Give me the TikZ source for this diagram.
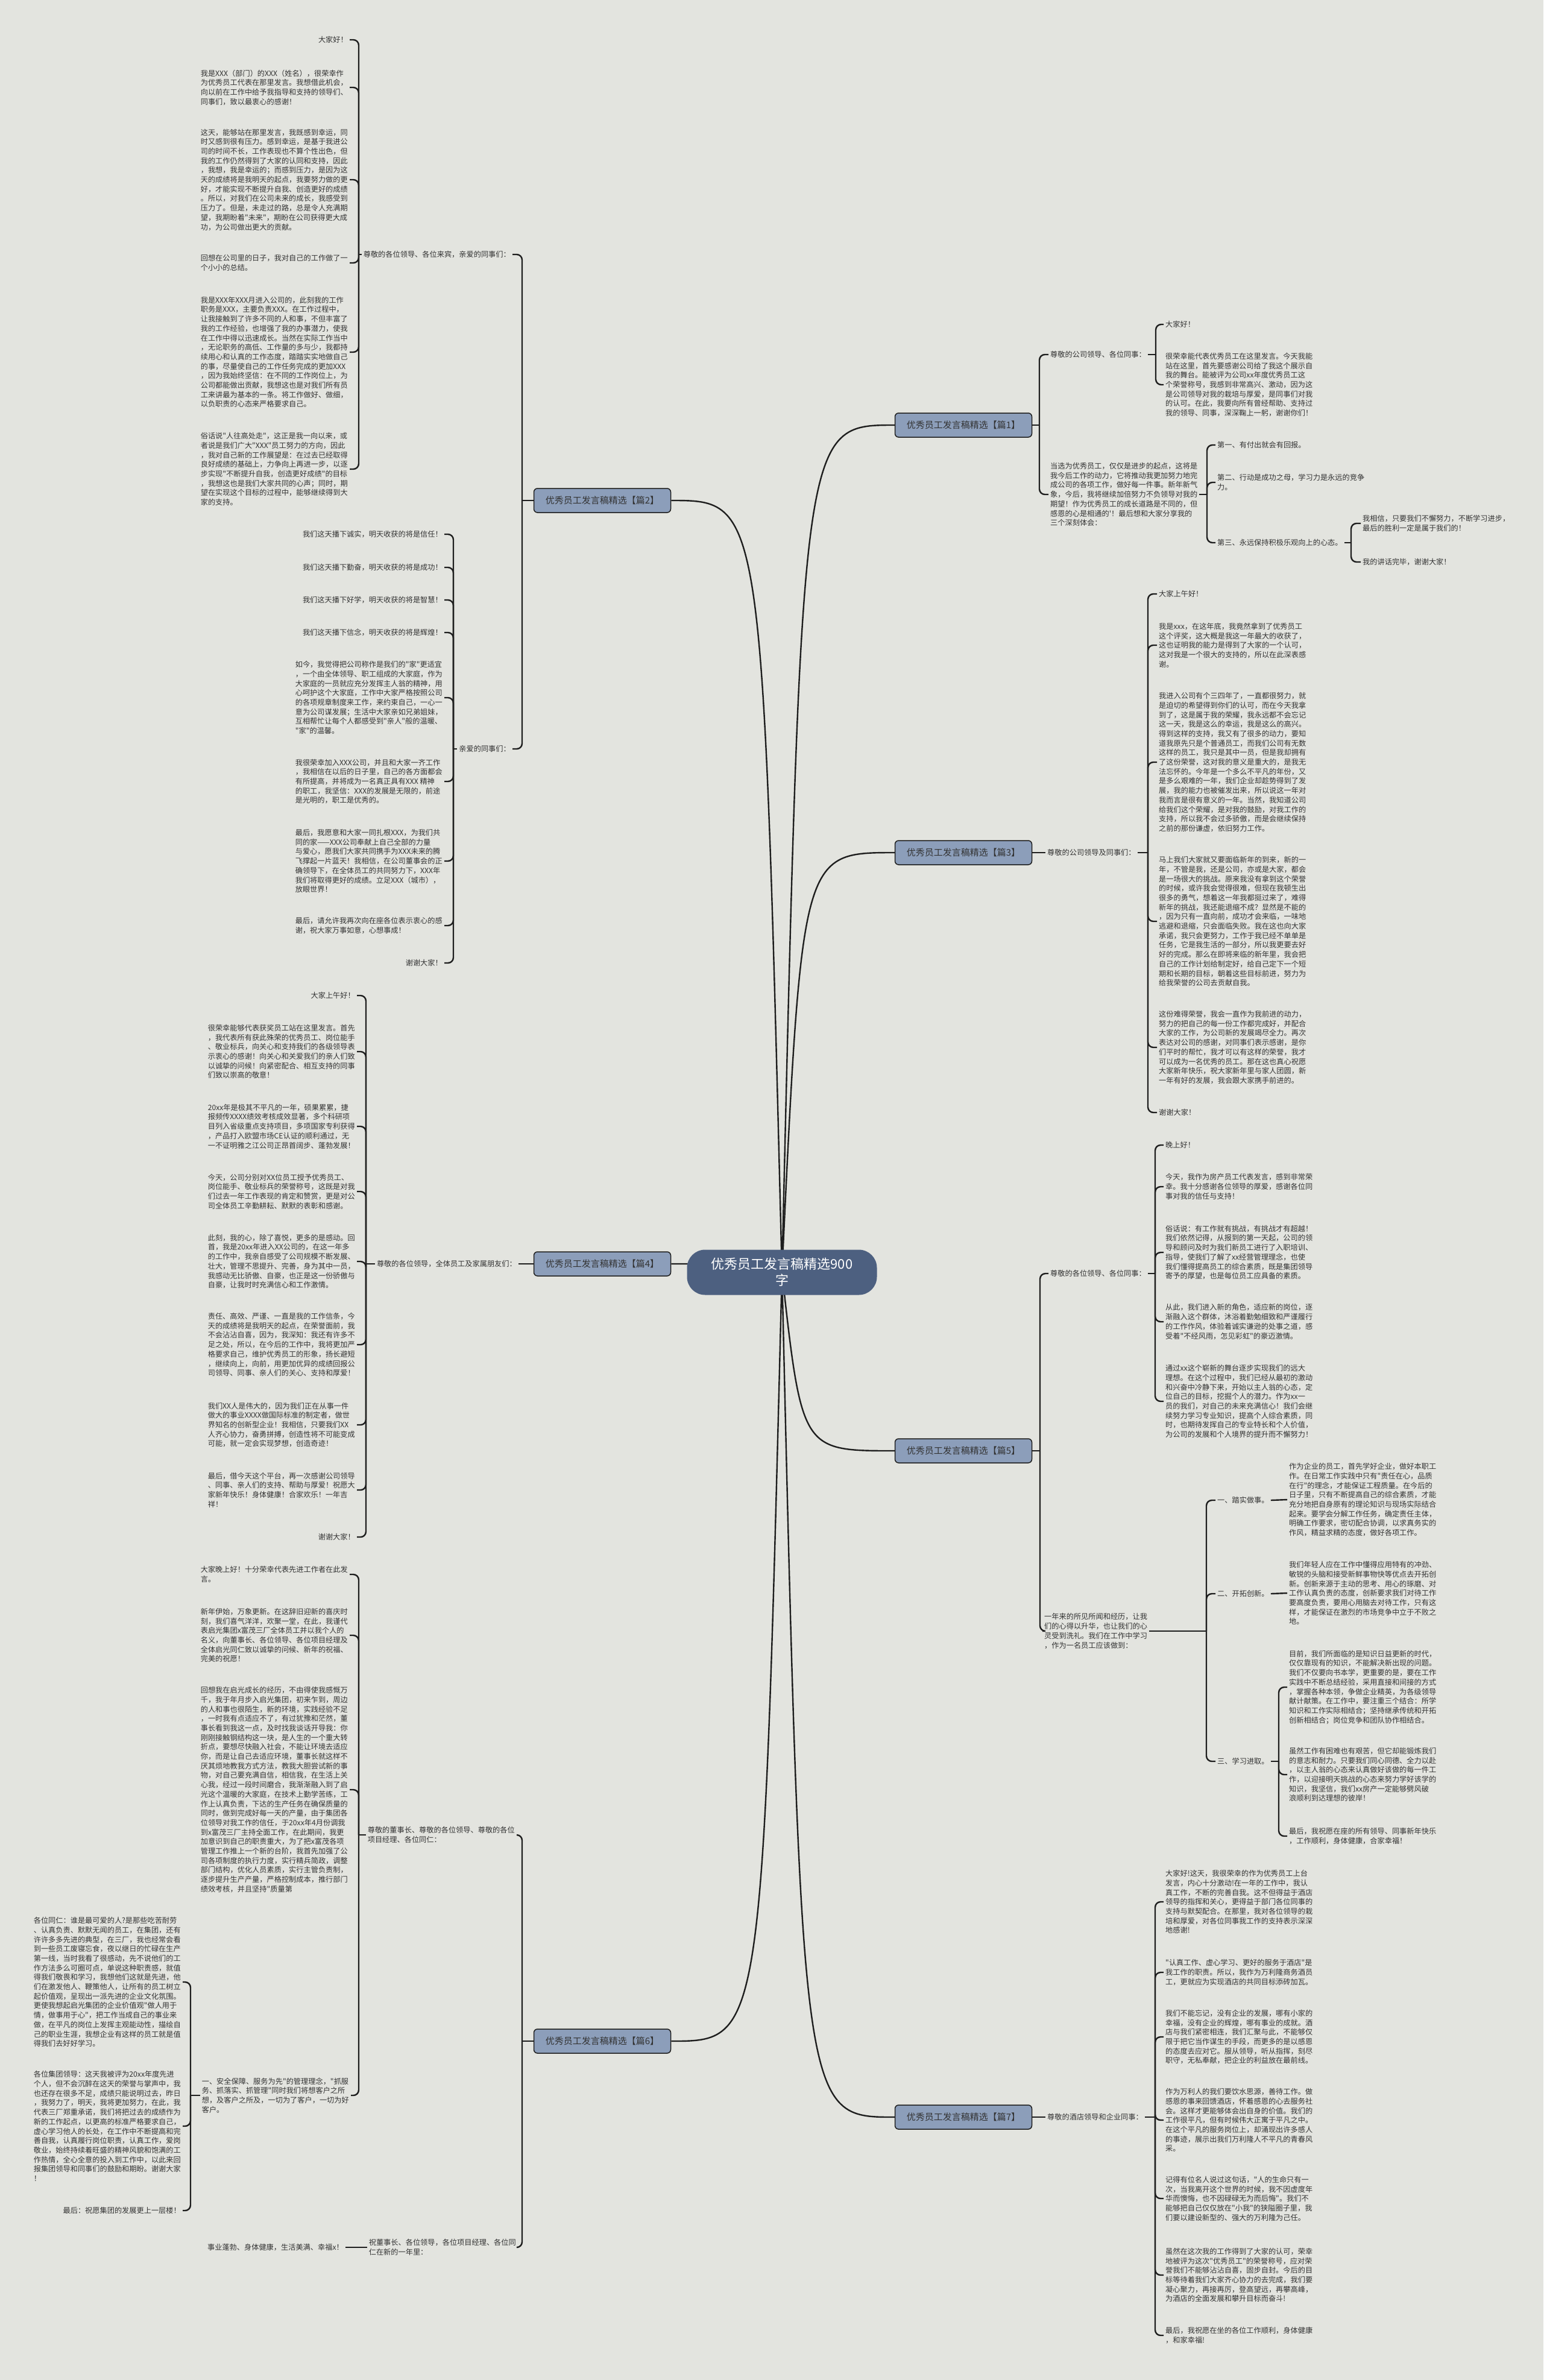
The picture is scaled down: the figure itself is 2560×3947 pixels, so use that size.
\documentclass[tikz,border=0pt]{standalone}
\usepackage{fontspec}
\newfontfamily\cjk{Noto Sans CJK SC}
\XeTeXlinebreaklocale "zh"
\definecolor{paper}{RGB}{227,228,223}
\definecolor{rootblue}{RGB}{77,96,128}
\definecolor{branchblue}{RGB}{140,158,186}
\definecolor{ink}{RGB}{51,51,51}
\definecolor{wire}{RGB}{30,30,30}
\pgfdeclarelayer{bg}
\pgfdeclarelayer{edges}
\pgfsetlayers{bg,edges,main}
\tikzset{
  txt/.style={font={\cjk\fontsize{12.2}{15.7}\selectfont},text=ink,align=left,inner xsep=3pt,inner ysep=1pt},
  rootbox/.style={font={\cjk\fontsize{22}{27}\selectfont},text=white,fill=rootblue,rounded corners=30pt,
    minimum width=315pt,minimum height=75pt,align=center},
  branchbox/.style={font={\cjk\fontsize{15}{18}\selectfont},text=ink,fill=branchblue,draw=wire,line width=1.5pt,
    rounded corners=6pt,minimum width=227pt,minimum height=40pt},
  link/.style={draw=wire,line width=2.4pt,rounded corners=9pt},
}
\begin{document}
\begin{tikzpicture}[x=1pt,y=-1pt]
  \useasboundingbox (0,0) rectangle (2560,3947);
  \begin{pgfonlayer}{bg}
    \fill[paper] (0,0) rectangle (2560,3947);
  \end{pgfonlayer}

  % 中心主题
  \node[rootbox] (root) at (1297,2110) {优秀员工发言稿精选900\\字};

  % 分支
  \node[branchbox] (p1) at (1598,705) {优秀员工发言稿精选【篇1】};
  \node[branchbox] (p3) at (1598,1414) {优秀员工发言稿精选【篇3】};
  \node[branchbox] (p5) at (1598,2406) {优秀员工发言稿精选【篇5】};
  \node[branchbox] (p7) at (1598,3511) {优秀员工发言稿精选【篇7】};
  \node[branchbox] (p2) at (999,830) {优秀员工发言稿精选【篇2】};
  \node[branchbox] (p4) at (999,2096) {优秀员工发言稿精选【篇4】};
  \node[branchbox] (p6) at (999,3385) {优秀员工发言稿精选【篇6】};

  % 篇1
  \node[txt,anchor=west] (r1a) at (1739,588) {尊敬的公司领导、各位同事：};
  \node[txt,anchor=west] (r1a1) at (1930,538) {大家好！};
  \node[txt,anchor=west] (r1a2) at (1930,638) {很荣幸能代表优秀员工在这里发言。今天我能\\站在这里，首先要感谢公司给了我这个展示自\\我的舞台。能被评为公司xx年度优秀员工这\\个荣誉称号，我感到非常高兴、激动，因为这\\是公司领导对我的栽培与厚爱，是同事们对我\\的认可。在此，我要向所有曾经帮助、支持过\\我的领导、同事，深深鞠上一躬，谢谢你们！};
  \node[txt,anchor=west] (r1b) at (1739,820) {当选为优秀员工，仅仅是进步的起点，这将是\\我今后工作的动力，它将推动我更加努力地完\\成公司的各项工作，做好每一件事。新年新气\\象，今后，我将继续加倍努力不负领导对我的\\期望！作为优秀员工的成长道路是不同的，但\\感恩的心是相通的'！最后想和大家分享我的\\三个深刻体会：};
  \node[txt,anchor=west] (r1b1) at (2016,738) {第一、有付出就会有回报。};
  \node[txt,anchor=west] (r1b2) at (2016,800) {第二、行动是成功之母，学习力是永远的竞争\\力。};
  \node[txt,anchor=west] (r1b3) at (2016,900) {第三、永远保持积极乐观向上的心态。};
  \node[txt,anchor=west] (r1b31) at (2257,868) {我相信，只要我们不懈努力，不断学习进步，\\最后的胜利一定是属于我们的！};
  \node[txt,anchor=west] (r1b32) at (2257,932) {我的讲话完毕，谢谢大家！};

  % 篇3
  \node[txt,anchor=west] (r3) at (1734,1414) {尊敬的公司领导及同事们：};
  \node[txt,anchor=west] (r31) at (1919,985) {大家上午好！};
  \node[txt,anchor=west] (r32) at (1919,1070) {我是xxx，在这年底，我竟然拿到了优秀员工\\这个评奖，这大概是我这一年最大的收获了，\\这也证明我的能力是得到了大家的一个认可，\\这对我是一个很大的支持的，所以在此深表感\\谢。};
  \node[txt,anchor=west] (r33) at (1919,1264) {我进入公司有个三四年了，一直都很努力，就\\是迫切的希望得到你们的认可，而在今天我拿\\到了，这是属于我的荣耀，我永远都不会忘记\\这一天，我是这么的幸运，我是这么的高兴。\\得到这样的支持，我又有了很多的动力，要知\\道我原先只是个普通员工，而我们公司有无数\\这样的员工，我只是其中一员，但是我却拥有\\了这份荣誉，这对我的意义是重大的，是我无\\法忘怀的。今年是一个多么不平凡的年份，又\\是多么艰难的一年，我们企业却趁势得到了发\\展，我的能力也被催发出来，所以说这一年对\\我而言是很有意义的一年。当然，我知道公司\\给我们这个荣耀，是对我的鼓励，对我工作的\\支持，所以我不会过多骄傲，而是会继续保持\\之前的那份谦虚，依旧努力工作。};
  \node[txt,anchor=west] (r34) at (1919,1528) {马上我们大家就又要面临新年的到来，新的一\\年，不管是我，还是公司，亦或是大家，都会\\是一场很大的挑战。原来我没有拿到这个荣誉\\的时候，或许我会觉得很难，但现在我顿生出\\很多的勇气，想着这一年我都挺过来了，难得\\新年的挑战，我还能退缩不成？显然是不能的\\，因为只有一直向前，成功才会来临，一味地\\逃避和退缩，只会面临失败。我在这也向大家\\承诺，我只会更努力，工作于我已经不单单是\\任务，它是我生活的一部分，所以我更要去好\\好的完成。那么在即将来临的新年里，我会把\\自己的工作计划给制定好，给自己定下一个短\\期和长期的目标，朝着这些目标前进，努力为\\给我荣誉的公司去贡献自我。};
  \node[txt,anchor=west] (r35) at (1919,1737) {这份难得荣誉，我会一直作为我前进的动力，\\努力的把自己的每一份工作都完成好，并配合\\大家的工作，为公司新的发展竭尽全力。再次\\表达对公司的感谢，对同事们表示感谢，是你\\们平时的帮忙，我才可以有这样的荣誉，我才\\可以成为一名优秀的员工。那在这也真心祝愿\\大家新年快乐，祝大家新年里与家人团圆，新\\一年有好的发展，我会跟大家携手前进的。};
  \node[txt,anchor=west] (r36) at (1919,1845) {谢谢大家！};

  % 篇5
  \node[txt,anchor=west] (r5a) at (1739,2112) {尊敬的各位领导、各位同事：};
  \node[txt,anchor=west] (r5a1) at (1930,1899) {晚上好！};
  \node[txt,anchor=west] (r5a2) at (1930,1968) {今天，我作为房产员工代表发言，感到非常荣\\幸。我十分感谢各位领导的厚爱，感谢各位同\\事对我的信任与支持！};
  \node[txt,anchor=west] (r5a3) at (1930,2077) {俗话说：有工作就有挑战，有挑战才有超越！\\我们依然记得，从报到的第一天起，公司的领\\导和顾问及时为我们新员工进行了入职培训、\\指导，使我们了解了xx经营管理理念，也使\\我们懂得提高员工的综合素质，既是集团领导\\寄予的厚望，也是每位员工应具备的素质。};
  \node[txt,anchor=west] (r5a4) at (1930,2192) {从此，我们进入新的角色，适应新的岗位，逐\\渐融入这个群体，沐浴着勤勉细致和严谨履行\\的工作作风，体验着诚实谦逊的处事之道，感\\受着"不经风雨，怎见彩虹"的豪迈激情。};
  \node[txt,anchor=west] (r5a5) at (1930,2324) {通过xx这个崭新的舞台逐步实现我们的远大\\理想。在这个过程中，我们已经从最初的激动\\和兴奋中冷静下来，开始以主人翁的心态，定\\位自己的目标，挖掘个人的潜力。作为xx一\\员的我们，对自己的未来充满信心！我们会继\\续努力学习专业知识，提高个人综合素质，同\\时，也期待发挥自己的专业特长和个人价值，\\为公司的发展和个人境界的提升而不懈努力！};
  \node[txt,anchor=west] (r5b) at (1729,2705) {一年来的所见所闻和经历，让我\\们的心得以升华，也让我们的心\\灵受到洗礼。我们在工作中学习\\，作为一名员工应该做到：};
  \node[txt,anchor=west] (r5b1) at (2016,2488) {一、踏实做事。};
  \node[txt,anchor=west] (r5b2) at (2016,2643) {二、开拓创新。};
  \node[txt,anchor=west] (r5b3) at (2016,2921) {三、学习进取。};
  \node[txt,anchor=west] (r5b11) at (2135,2487) {作为企业的员工，首先学好企业，做好本职工\\作。在日常工作实践中只有"责任在心，品质\\在行"的理念，才能保证工程质量。在今后的\\日子里，只有不断提高自己的综合素质，才能\\充分地把自身原有的理论知识与现场实际结合\\起来。要学会分解工作任务，确定责任主体，\\明确工作要求，密切配合协调，以求真务实的\\作风，精益求精的态度，做好各项工作。};
  \node[txt,anchor=west] (r5b21) at (2135,2642) {我们年轻人应在工作中懂得应用特有的冲劲、\\敏锐的头脑和接受新鲜事物快等优点去开拓创\\新。创新来源于主动的思考、用心的琢磨、对\\工作认真负责的态度，创新要求我们对待工作\\要高度负责，要用心用脑去对待工作，只有这\\样，才能保证在激烈的市场竞争中立于不败之\\地。};
  \node[txt,anchor=west] (r5b31) at (2135,2798) {目前，我们所面临的是知识日益更新的时代，\\仅仅靠现有的知识，不能解决新出现的问题。\\我们不仅要向书本学，更重要的是，要在工作\\实践中不断总结经验，采用直接和间接的方式\\，掌握各种本领，争做企业精英，为各级领导\\献计献策。在工作中，要注重三个结合：所学\\知识和工作实际相结合；坚持继承传统和开拓\\创新相结合；岗位竞争和团队协作相结合。};
  \node[txt,anchor=west] (r5b32) at (2135,2943) {虽然工作有困难也有艰苦，但它却能锻炼我们\\的意志和耐力。只要我们同心同德、全力以赴\\，以主人翁的心态来认真做好该做的每一件工\\作，以迎接明天挑战的心态来努力学好该学的\\知识，我坚信，我们xx房产一定能够劈风破\\浪顺利到达理想的彼岸！};
  \node[txt,anchor=west] (r5b33) at (2135,3045) {最后，我祝愿在座的所有领导、同事新年快乐\\，工作顺利，身体健康，合家幸福！};

  % 篇7
  \node[txt,anchor=west] (r7) at (1734,3511) {尊敬的酒店领导和企业同事：};
  \node[txt,anchor=west] (r71) at (1930,3154) {大家好!这天，我很荣幸的作为优秀员工上台\\发言，内心十分激动!在一年的工作中，我认\\真工作，不断的完善自我。这不但得益于酒店\\领导的指挥和关心，更得益于部门各位同事的\\支持与默契配合。在那里，我对各位领导的栽\\培和厚爱，对各位同事我工作的支持表示深深\\地感谢!};
  \node[txt,anchor=west] (r72) at (1930,3271) {"认真工作、虚心学习、更好的服务于酒店"是\\我工作的职责。所以，我作为万利隆商务酒员\\工，更就应为实现酒店的共同目标添砖加瓦。};
  \node[txt,anchor=west] (r73) at (1930,3378) {我们不能忘记，没有企业的发展，哪有小家的\\幸福，没有企业的辉煌，哪有事业的成就。酒\\店与我们紧密相连，我们汇聚与此，不能够仅\\限于把它当作谋生的手段，而更多的是以感恩\\的态度去应对它。服从领导，听从指挥，刻尽\\职守，无私奉献，把企业的利益放在最前线。};
  \node[txt,anchor=west] (r74) at (1930,3516) {作为万利人的我们要饮水思源，善待工作。做\\感恩的事来回馈酒店，怀着感恩的心去服务社\\会。这样才更能够体会出自身的价值。我们的\\工作很平凡，但有时候伟大正寓于平凡之中。\\在这个平凡的服务岗位上，却涌现出许多感人\\的事迹，展示出我们万利隆人不平凡的青春风\\采。};
  \node[txt,anchor=west] (r75) at (1930,3646) {记得有位名人说过这句话，"人的生命只有一\\次，当我离开这个世界的时候，我不因虚度年\\华而懊悔，也不因碌碌无为而后悔"。我们不\\能够把自己仅仅放在"小我"的狭隘圈子里，我\\们要以建设新型的、强大的万利隆为己任。};
  \node[txt,anchor=west] (r76) at (1930,3773) {虽然在这次我的工作得到了大家的认可，荣幸\\地被评为这次"优秀员工"的荣誉称号，应对荣\\誉我们不能够沾沾自喜，固步自封。今后的目\\标等待着我们大家齐心协力的去完成，我们要\\凝心聚力，再接再厉，登高望远，再攀高峰，\\为酒店的全面发展和攀升目标而奋斗!};
  \node[txt,anchor=west] (r77) at (1930,3873) {最后，我祝愿在坐的各位工作顺利，身体健康\\，和家幸福!};

  % 篇2
  \node[txt,anchor=east] (l2a) at (850,422) {尊敬的各位领导、各位来宾，亲爱的同事们：};
  \node[txt,anchor=east] (l2a1) at (580,66) {大家好！};
  \node[txt,anchor=east] (l2a2) at (580,145) {我是XXX（部门）的XXX（姓名），很荣幸作\\为优秀员工代表在那里发言。我想借此机会，\\向以前在工作中给予我指导和支持的领导们、\\同事们，致以最衷心的感谢！};
  \node[txt,anchor=east] (l2a3) at (580,298) {这天，能够站在那里发言，我既感到幸运，同\\时又感到很有压力。感到幸运，是基于我进公\\司的时间不长，工作表现也不算个性出色，但\\我的工作仍然得到了大家的认同和支持，因此\\，我想，我是幸运的；而感到压力，是因为这\\天的成绩将是我明天的起点，我要努力做的更\\好，才能实现不断提升自我、创造更好的成绩\\。所以，对我们在公司未来的成长，我感受到\\压力了。但是，未走过的路，总是令人充满期\\望，我期盼着"未来"，期盼在公司获得更大成\\功，为公司做出更大的贡献。};
  \node[txt,anchor=east] (l2a4) at (580,436) {回想在公司里的日子，我对自己的工作做了一\\个小小的总结。};
  \node[txt,anchor=east] (l2a5) at (580,584) {我是XXX年XXX月进入公司的，此刻我的工作\\职务是XXX，主要负责XXX。在工作过程中，\\让我接触到了许多不同的人和事，不但丰富了\\我的工作经验，也增强了我的办事潜力，使我\\在工作中得以迅速成长。当然在实际工作当中\\，无论职务的高低、工作量的多与少，我都持\\续用心和认真的工作态度，踏踏实实地做自己\\的事，尽量使自己的工作任务完成的更加XXX\\，因为我始终坚信：在不同的工作岗位上，为\\公司都能做出贡献，我想这也是对我们所有员\\工来讲最为基本的一条。将工作做好、做细，\\以负职责的心态来严格要求自己。};
  \node[txt,anchor=east] (l2a6) at (580,778) {俗话说"人往高处走"，这正是我一向以来，或\\者说是我们广大"XXX"员工努力的方向，因此\\，我对自己新的工作展望是：在过去已经取得\\良好成绩的基础上，力争向上再进一步，以逐\\步实现"不断提升自我，创造更好成绩"的目标\\，我想这也是我们大家共同的心声；同时，期\\望在实现这个目标的过程中，能够继续得到大\\家的支持。};
  \node[txt,anchor=east] (l2b) at (850,1242) {亲爱的同事们：};
  \node[txt,anchor=east] (l2b1) at (737,886) {我们这天播下诚实，明天收获的将是信任！};
  \node[txt,anchor=east] (l2b2) at (737,941) {我们这天播下勤奋，明天收获的将是成功！};
  \node[txt,anchor=east] (l2b3) at (737,995) {我们这天播下好学，明天收获的将是智慧！};
  \node[txt,anchor=east] (l2b4) at (737,1049) {我们这天播下信念，明天收获的将是辉煌！};
  \node[txt,anchor=east] (l2b5) at (737,1157) {如今，我觉得把公司称作是我们的"家"更适宜\\，一个由全体领导、职工组成的大家庭，作为\\大家庭的一员就应充分发挥主人翁的精神，用\\心呵护这个大家庭，工作中大家严格按照公司\\的各项规章制度来工作，来约束自己，一心一\\意为公司谋发展；生活中大家亲如兄弟姐妹，\\互相帮忙让每个人都感受到"亲人"般的温暖、\\"家"的温馨。};
  \node[txt,anchor=east] (l2b6) at (737,1296) {我很荣幸加入XXX公司，并且和大家一齐工作\\，我相信在以后的日子里，自己的各方面都会\\有所提高，并将成为一名真正具有XXX 精神\\的职工，我坚信：XXX的发展是无限的，前途\\是光明的，职工是优秀的。};
  \node[txt,anchor=east] (l2b7) at (737,1428) {最后，我愿意和大家一同扎根XXX，为我们共\\同的家——XXX公司奉献上自己全部的力量\\与爱心，愿我们大家共同携手为XXX未来的腾\\飞撑起一片蓝天！我相信，在公司董事会的正\\确领导下，在全体员工的共同努力下，XXX年\\我们将取得更好的成绩。立足XXX（城市），\\放眼世界！};
  \node[txt,anchor=east] (l2b8) at (737,1535) {最后，请允许我再次向在座各位表示衷心的感\\谢，祝大家万事如意，心想事成！};
  \node[txt,anchor=east] (l2b9) at (737,1597) {谢谢大家！};

  % 篇4
  \node[txt,anchor=east] (l4) at (860,2096) {尊敬的各位领导，全体员工及家属朋友们：};
  \node[txt,anchor=east] (l41) at (592,1651) {大家上午好！};
  \node[txt,anchor=east] (l42) at (592,1744) {很荣幸能够代表获奖员工站在这里发言。首先\\，我代表所有获此殊荣的优秀员工、岗位能手\\、敬业标兵，向关心和支持我们的各级领导表\\示衷心的感谢！向关心和关爱我们的亲人们致\\以诚挚的问候！向紧密配合、相互支持的同事\\们致以崇高的敬意！};
  \node[txt,anchor=east] (l43) at (592,1868) {20xx年是极其不平凡的一年，硕果累累，捷\\报频传XXXX绩效考核成效显著，多个科研项\\目列入省级重点支持项目，多项国家专利获得\\，产品打入欧盟市场CE认证的顺利通过，无\\一不证明雅之江公司正昂首阔步、蓬勃发展！};
  \node[txt,anchor=east] (l44) at (592,1976) {今天，公司分别对XX位员工授予优秀员工、\\岗位能手、敬业标兵的荣誉称号，这既是对我\\们过去一年工作表现的肯定和赞赏，更是对公\\司全体员工辛勤耕耘、默默的表彰和感谢。};
  \node[txt,anchor=east] (l45) at (592,2092) {此刻，我的心，除了喜悦，更多的是感动。回\\首，我是20xx年进入XX公司的，在这一年多\\的工作中，我亲自感受了公司规模不断发展、\\壮大，管理不思提升、完善，身为其中一员，\\我感动无比骄傲、自豪，也正是这一份骄傲与\\自豪，让我时时充满信心和工作激情。};
  \node[txt,anchor=east] (l46) at (592,2230) {责任、高效、严谨、一直是我的工作信条，今\\天的成绩将是我明天的起点，在荣誉面前，我\\不会沾沾自喜，因为，我深知：我还有许多不\\足之处，所以，在今后的工作中，我将更加严\\格要求自己，维护优秀员工的形象，扬长避短\\，继续向上，向前，用更加优异的成绩回报公\\司领导、同事、亲人们的关心、支持和厚爱！};
  \node[txt,anchor=east] (l47) at (592,2363) {我们XX人是伟大的，因为我们正在从事一件\\做大的事业XXXX做国际标准的制定者，做世\\界知名的创新型企业！我相信，只要我们XX\\人齐心协力，奋勇拼搏，创造性将不可能变成\\可能，就一定会实现梦想，创造奇迹！};
  \node[txt,anchor=east] (l48) at (592,2471) {最后，借今天这个平台，再一次感谢公司领导\\、同事、亲人们的支持、帮助与厚爱！祝愿大\\家新年快乐！身体健康！合家欢乐！一年吉\\祥！};
  \node[txt,anchor=east] (l49) at (592,2549) {谢谢大家！};

  % 篇6
  \node[txt,anchor=east] (l6a) at (857,3043) {尊敬的董事长、尊敬的各位领导、尊敬的各位\\项目经理、各位同仁：};
  \node[txt,anchor=east] (l6a1) at (580,2611) {大家晚上好！十分荣幸代表先进工作者在此发\\言。};
  \node[txt,anchor=east] (l6a2) at (580,2712) {新年伊始，万象更新。在这辞旧迎新的喜庆时\\刻，我们喜气洋洋，欢聚一堂，在此，我谨代\\表启光集团x富茂三厂全体员工并以我个人的\\名义，向董事长、各位领导、各位项目经理及\\全体启光同仁致以诚挚的问候、新年的祝福、\\完美的祝愿！};
  \node[txt,anchor=east] (l6a3) at (580,2968) {回想我在启光成长的经历，不由得使我感慨万\\千，我于年月步入启光集团，初来乍到，周边\\的人和事也很陌生，新的环境，实践经验不足\\，一时我有点适应不了，有过犹豫和茫然，董\\事长看到我这一点，及时找我谈话开导我：你\\刚刚接触钢结构这一块，是人生的一个重大转\\折点，要想尽快融入社会，不能让环境去适应\\你，而是让自己去适应环境，董事长就这样不\\厌其烦地教我方式方法，教我大胆尝试新的事\\物，对自己要充满自信，相信我，在生活上关\\心我，经过一段时间磨合，我渐渐融入到了启\\光这个温暖的大家庭，在技术上勤学苦练，工\\作上认真负责，下达的生产任务在确保质量的\\同时，做到完成好每一天的产量，由于集团各\\位领导对我工作的信任，于20xx年4月份调我\\到x富茂三厂主持全面工作，在此期间，我更\\加意识到自己的职责重大，为了把x富茂各项\\管理工作推上一个新的台阶，我首先加强了公\\司各项制度的执行力度，实行精兵简政，调整\\部门结构，优化人员素质，实行主管负责制，\\逐步提升生产产量，严格控制成本，推行部门\\绩效考核，并且坚持"质量第};
  \node[txt,anchor=east] (l6a4) at (582,3475) {一、安全保障、服务为先"的管理理念，"抓服\\务、抓落实、抓管理"同时我们将想客户之所\\想，及客户之所及，一切为了客户，一切为好\\客户。};
  \node[txt,anchor=east] (l6a41) at (303,3287) {各位同仁：谁是最可爱的人?是那些吃苦耐劳\\、认真负责、默默无闻的员工，在集团，还有\\许许多多先进的典型，在三厂，我也经常会看\\到一些员工废寝忘食，夜以继日的忙碌在生产\\第一线，当时我看了很感动，先不说他们的工\\作方法多么可圈可点，单说这种职责感，就值\\得我们敬畏和学习，我想他们这就是先进，他\\们在激发他人、鞭策他人，让所有的员工树立\\起价值观，呈现出一派先进的企业文化氛围。\\更使我想起启光集团的企业价值观"做人用于\\情，做事用于心"，把工作当成自己的事业来\\做，在平凡的岗位上发挥主观能动性，描绘自\\己的职业生涯，我想企业有这样的员工就是值\\得我们去好好学习。};
  \node[txt,anchor=east] (l6a42) at (303,3526) {各位集团领导：这天我被评为20xx年度先进\\个人，但不会沉醉在这天的荣誉与掌声中，我\\也还存在很多不足，成绩只能说明过去，昨日\\，我努力了，明天，我将更加努力，在此，我\\代表三厂郑重承诺，我们将把过去的成绩作为\\新的工作起点，以更高的标准严格要求自己，\\虚心学习他人的长处，在工作中不断提高和完\\善自我，认真履行岗位职责，认真工作，爱岗\\敬业，始终持续着旺盛的精神风貌和饱满的工\\作热情，全心全意的投入到工作中，以此来回\\报集团领导和同事们的鼓励和期盼。谢谢大家\\！};
  \node[txt,anchor=east] (l6a43) at (303,3666) {最后：祝愿集团的发展更上一层楼！};
  \node[txt,anchor=east] (l6b) at (859,3727) {祝董事长、各位领导，各位项目经理、各位同\\仁在新的一年里：};
  \node[txt,anchor=east] (l6b1) at (573,3727) {事业蓬勃、身体健康，生活美满、幸福x！};

  % 分叉点
  \coordinate (j1) at (1724,705);
  \coordinate (j1a) at (1917,588);
  \coordinate (j1b) at (2002,820);
  \coordinate (j1b3) at (2241,900);
  \coordinate (j3) at (1904,1414);
  \coordinate (j5) at (1725,2406);
  \coordinate (j5a) at (1916,2112);
  \coordinate (j5b) at (2001,2705);
  \coordinate (j5b3) at (2121,2921);
  \coordinate (j7) at (1916,3511);
  \coordinate (j2) at (866,830);
  \coordinate (j2a) at (595,422);
  \coordinate (j2b) at (752,1242);
  \coordinate (j4) at (607,2096);
  \coordinate (j6) at (866,3385);
  \coordinate (j6a) at (595,3043);
  \coordinate (j6a4) at (316,3475);

  \begin{pgfonlayer}{edges}
    % 中心到分支
    \draw[link] (root.center) .. controls (1330,705) .. (p1.west);
    \draw[link] (root.center) .. controls (1330,1414) .. (p3.west);
    \draw[link] (root.center) .. controls (1330,2406) .. (p5.west);
    \draw[link] (root.center) .. controls (1330,3511) .. (p7.west);
    \draw[link] (root.center) .. controls (1265,830) .. (p2.east);
    \draw[link] (root.center) .. controls (1265,2096) .. (p4.east);
    \draw[link] (root.center) .. controls (1265,3385) .. (p6.east);

    % 右侧
    \draw[link] (p1.east) -- (j1);
    \foreach \n in {r1a,r1b} \draw[link] (j1) |- (\n.west);
    \draw[link] (r1a.east) -- (j1a);
    \foreach \n in {r1a1,r1a2} \draw[link] (j1a) |- (\n.west);
    \draw[link] (r1b.east) -- (j1b);
    \foreach \n in {r1b1,r1b2,r1b3} \draw[link] (j1b) |- (\n.west);
    \draw[link] (r1b3.east) -- (j1b3);
    \foreach \n in {r1b31,r1b32} \draw[link] (j1b3) |- (\n.west);

    \draw[link] (p3.east) -- (r3.west);
    \draw[link] (r3.east) -- (j3);
    \foreach \n in {r31,r32,r33,r34,r35,r36} \draw[link] (j3) |- (\n.west);

    \draw[link] (p5.east) -- (j5);
    \foreach \n in {r5a,r5b} \draw[link] (j5) |- (\n.west);
    \draw[link] (r5a.east) -- (j5a);
    \foreach \n in {r5a1,r5a2,r5a3,r5a4,r5a5} \draw[link] (j5a) |- (\n.west);
    \draw[link] (r5b.east) -- (j5b);
    \foreach \n in {r5b1,r5b2,r5b3} \draw[link] (j5b) |- (\n.west);
    \draw[link] (r5b1.east) -- (r5b11.west);
    \draw[link] (r5b2.east) -- (r5b21.west);
    \draw[link] (r5b3.east) -- (j5b3);
    \foreach \n in {r5b31,r5b32,r5b33} \draw[link] (j5b3) |- (\n.west);

    \draw[link] (p7.east) -- (r7.west);
    \draw[link] (r7.east) -- (j7);
    \foreach \n in {r71,r72,r73,r74,r75,r76,r77} \draw[link] (j7) |- (\n.west);

    % 左侧
    \draw[link] (p2.west) -- (j2);
    \foreach \n in {l2a,l2b} \draw[link] (j2) |- (\n.east);
    \draw[link] (l2a.west) -- (j2a);
    \foreach \n in {l2a1,l2a2,l2a3,l2a4,l2a5,l2a6} \draw[link] (j2a) |- (\n.east);
    \draw[link] (l2b.west) -- (j2b);
    \foreach \n in {l2b1,l2b2,l2b3,l2b4,l2b5,l2b6,l2b7,l2b8,l2b9} \draw[link] (j2b) |- (\n.east);

    \draw[link] (p4.west) -- (l4.east);
    \draw[link] (l4.west) -- (j4);
    \foreach \n in {l41,l42,l43,l44,l45,l46,l47,l48,l49} \draw[link] (j4) |- (\n.east);

    \draw[link] (p6.west) -- (j6);
    \foreach \n in {l6a,l6b} \draw[link] (j6) |- (\n.east);
    \draw[link] (l6a.west) -- (j6a);
    \foreach \n in {l6a1,l6a2,l6a3,l6a4} \draw[link] (j6a) |- (\n.east);
    \draw[link] (l6a4.west) -- (j6a4);
    \foreach \n in {l6a41,l6a42,l6a43} \draw[link] (j6a4) |- (\n.east);
    \draw[link] (l6b.west) -- (l6b1.east);
  \end{pgfonlayer}
\end{tikzpicture}
\end{document}
